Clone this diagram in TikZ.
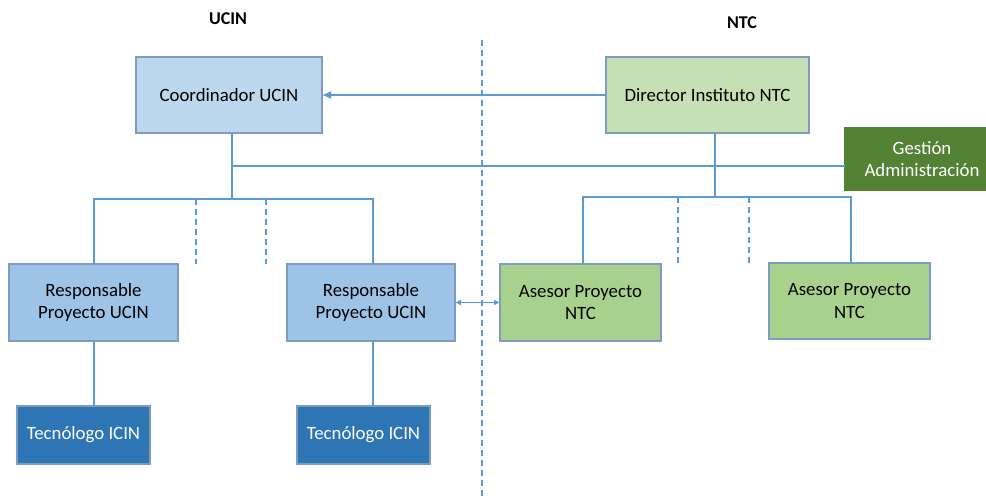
\documentclass[tikz,border=0pt]{standalone}
\usepackage{fontspec}
\setmainfont{Carlito}
\usetikzlibrary{arrows.meta}
\definecolor{lineblue}{HTML}{5B9BD5}
\definecolor{edgeblue}{HTML}{7F9CBF}
\definecolor{coordfill}{HTML}{BDD7EE}
\definecolor{respfill}{HTML}{9DC3E6}
\definecolor{tecfill}{HTML}{2E75B6}
\definecolor{dirfill}{HTML}{C5E0B4}
\definecolor{asefill}{HTML}{A9D18E}
\definecolor{gesfill}{HTML}{548235}
\tikzset{
  orgbox/.style={draw=edgeblue, line width=1.2pt, inner sep=0pt, outer sep=0pt, align=center,
    font=\fontsize{18.8}{22.5}\selectfont, text=black},
  conn/.style={draw=lineblue, line width=1.5pt},
  dconn/.style={draw=lineblue, line width=1.5pt, dash pattern=on 6pt off 4pt},
  title/.style={font=\fontsize{18}{22}\selectfont\bfseries}
}
\begin{document}
\begin{tikzpicture}[x=1pt,y=-1pt]
\useasboundingbox (0,0) rectangle (986,500);
\fill[white] (0,0) rectangle (986,500);

\node[title] (tucin) at (228,19) {UCIN};
\node[title] (tntc) at (742,23) {NTC};

\draw[dconn] (482,40) -- (482,500);

\node[orgbox, fill=coordfill, minimum width=186pt, minimum height=76pt] (coord) at (229,95) {Coordinador UCIN};
\node[orgbox, fill=dirfill, minimum width=203pt, minimum height=76pt] (dir) at (707.5,95) {Director Instituto NTC};
\node[orgbox, fill=gesfill, draw=gesfill, text=white, minimum width=154pt, minimum height=62pt] (ges) at (922,159) {Gestión\\Administración};

\node[orgbox, fill=respfill, minimum width=169pt, minimum height=77pt] (r1) at (93.5,302.5) {Responsable\\Proyecto UCIN};
\node[orgbox, fill=respfill, minimum width=168pt, minimum height=77pt] (r2) at (371,302.5) {Responsable\\Proyecto UCIN};
\node[orgbox, fill=asefill, minimum width=161pt, minimum height=77pt] (a1) at (580.5,302.5) {Asesor Proyecto\\NTC};
\node[orgbox, fill=asefill, minimum width=161pt, minimum height=76pt] (a2) at (849.5,301) {Asesor Proyecto\\NTC};
\node[orgbox, fill=tecfill, text=white, minimum width=133pt, minimum height=58pt] (t1) at (83.5,435) {Tecnólogo ICIN};
\node[orgbox, fill=tecfill, text=white, minimum width=133pt, minimum height=58pt] (t2) at (363.5,435) {Tecnólogo ICIN};

% arrow director -> coordinador
\draw[conn, -{Latex[length=9pt,width=8pt]}] (dir.west) -- (coord.east);

% UCIN tree
\coordinate (ub) at (232,199);
\coordinate (jn) at (232,166);
\coordinate (ul) at (94,199);
\coordinate (ur) at (373,199);
\draw[conn] (coord.south -| ub) -- (ub);
\draw[conn] (jn) -- (jn -| ges.west);
\draw[conn] (ul |- r1.north) -- (ul) -- (ur) -- (ur |- r2.north);
\coordinate (us1) at (196,199);
\coordinate (us2) at (266,199);
\draw[dconn] (us1) -- (us1 |- r1.north);
\draw[dconn] (us2) -- (us2 |- r1.north);
\draw[conn] (ul |- r1.south) -- (ul |- t1.north);
\draw[conn] (ur |- r2.south) -- (ur |- t2.north);

% NTC tree
\coordinate (nb) at (715,197);
\coordinate (nl) at (583,197);
\coordinate (nr) at (851,197);
\draw[conn] (dir.south -| nb) -- (nb);
\draw[conn] (nl |- a1.north) -- (nl) -- (nr) -- (nr |- a2.north);
\coordinate (ns1) at (678,197);
\coordinate (ns2) at (749,197);
\draw[dconn] (ns1) -- (ns1 |- a2.north);
\draw[dconn] (ns2) -- (ns2 |- a2.north);

% double arrow
\draw[conn, line width=1.2pt, {Latex[length=6pt,width=6pt]}-{Latex[length=6pt,width=6pt]}] (r2.east) -- (a1.west);
\end{tikzpicture}
\end{document}
